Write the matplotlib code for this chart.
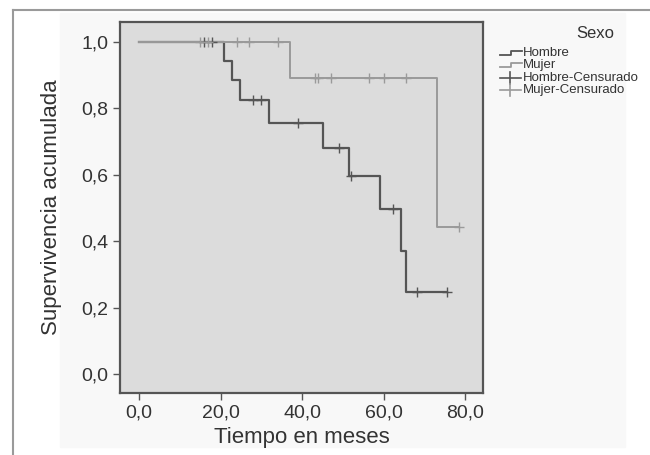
import numpy as np
import matplotlib
matplotlib.use("Agg")
import matplotlib.pyplot as plt
from matplotlib.lines import Line2D
from matplotlib.patches import Rectangle

plt.rcParams['font.family'] = ['Liberation Sans', 'DejaVu Sans']

# Kaplan-Meier steps
hombre_t = [0, 20.9, 22.7, 24.8, 31.9, 45.1, 51.4, 59.1, 64.2, 65.4, 75.5]
hombre_s = [1.0, 0.943, 0.886, 0.824, 0.757, 0.681, 0.596, 0.496, 0.371, 0.246, 0.246]
hombre_cens_t = [15.8, 17.9, 27.9, 30.0, 38.9, 49.1, 52.0, 62.3, 68.3, 75.5]
hombre_cens_s = [1.0, 1.0, 0.824, 0.824, 0.757, 0.681, 0.596, 0.496, 0.246, 0.246]

mujer_t = [0, 37.1, 73.2, 78.5]
mujer_s = [1.0, 0.891, 0.444, 0.444]
mujer_cens_t = [15.0, 17.0, 23.9, 27.0, 34.0, 43.2, 43.8, 47.1, 56.3, 60.2, 65.4, 78.5]
mujer_cens_s = [1.0, 1.0, 1.0, 1.0, 1.0, 0.891, 0.891, 0.891, 0.891, 0.891, 0.891, 0.444]

xticks = [0, 20, 40, 60, 80]
yticks = [0.0, 0.2, 0.4, 0.6, 0.8, 1.0]
legend_labels = ['Hombre', 'Mujer', 'Hombre-Censurado', 'Mujer-Censurado']

dark = '#555555'
light = '#9a9a9a'

W, H = 650, 455
fig = plt.figure(figsize=(6.5, 4.55), dpi=100)
fig.patch.set_facecolor('white')

# faint off-white panel and outer frame
fig.add_artist(Rectangle((60 / W, 1 - 447 / H), 565 / W, 434 / H,
                         transform=fig.transFigure, color='#f8f8f8', zorder=-2))
fig.add_artist(Line2D([13 / W, 1], [1 - 10 / H, 1 - 10 / H], transform=fig.transFigure,
                      color='#9a9a9a', lw=1.5))
fig.add_artist(Line2D([13 / W, 13 / W], [0, 1 - 10 / H], transform=fig.transFigure,
                      color='#9a9a9a', lw=1.5))

ax = fig.add_axes([120 / W, 1 - 393 / H, 363 / W, 371 / H])
ax.set_facecolor('#dcdcdc')

ax.step(hombre_t, hombre_s, where='post', color=dark, lw=1.6)
ax.step(mujer_t, mujer_s, where='post', color=light, lw=1.4)
ax.plot(hombre_cens_t, hombre_cens_s, '+', color=dark, ms=7, mew=1.0)
ax.plot(mujer_cens_t, mujer_cens_s, '+', color=light, ms=7, mew=1.0)

ax.set_xlim(-4.7, 84.4)
ax.set_ylim(-0.057, 1.06)
ax.set_xticks(xticks)
ax.set_xticklabels([f'{v:.1f}'.replace('.', ',') for v in xticks])
ax.set_yticks(yticks)
ax.set_yticklabels([f'{v:.1f}'.replace('.', ',') for v in yticks])
ax.tick_params(direction='out', length=5, width=1, colors='#555555',
               labelcolor='#333333', labelsize=14)
for s in ax.spines.values():
    s.set_color('#555555')
    s.set_linewidth(1.6)

ax.set_xlabel('Tiempo en meses', fontsize=16, color='#333333', labelpad=4)
ax.set_ylabel('Supervivencia acumulada', fontsize=16, color='#333333', labelpad=14)

# legend drawn by hand
fig.text(595 / W, 1 - 33 / H, 'Sexo', fontsize=12, color='#333333',
         ha='center', va='center')
rows = [53, 65, 78, 90]
for i, lab in enumerate(legend_labels):
    y = 1 - rows[i] / H
    col = dark if i % 2 == 0 else light
    if i < 2:
        xs = np.array([500, 511, 511, 522]) / W
        ys = np.array([y - 2 / H, y - 2 / H, y + 2 / H, y + 2 / H])
        fig.add_artist(Line2D(xs, ys, transform=fig.transFigure, color=col, lw=1.3))
    else:
        fig.add_artist(Line2D([500 / W, 521 / W], [y, y], transform=fig.transFigure,
                              color=col, lw=1.2))
        fig.add_artist(Line2D([510 / W, 510 / W], [y - 6 / H, y + 6 / H],
                              transform=fig.transFigure, color=col, lw=1.2))
    fig.text(523 / W, y, lab, fontsize=9.5, color='#333333', ha='left', va='center')

fig.savefig('out.png', dpi=100)
